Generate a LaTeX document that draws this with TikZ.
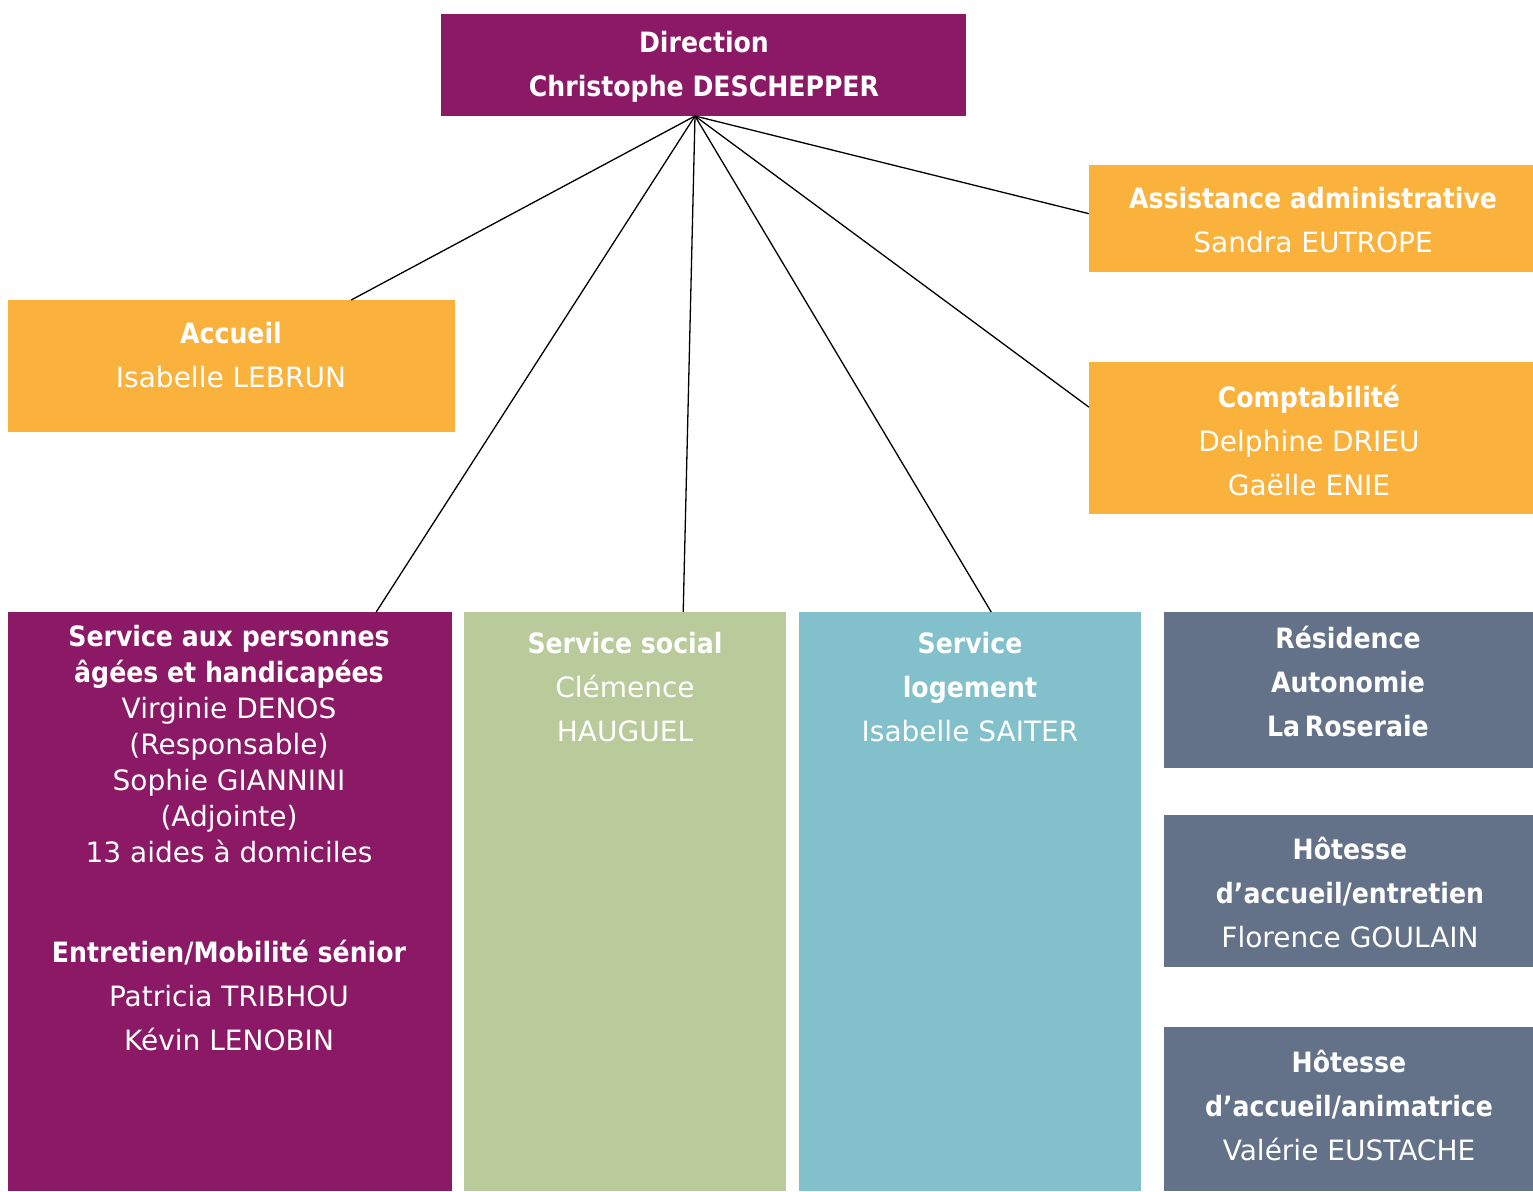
\documentclass[tikz,border=0pt]{standalone}
\usepackage{fontspec}
\setmainfont{DejaVu Sans}[BoldFont={DejaVu Sans Condensed Bold}]
\usetikzlibrary{positioning}
\definecolor{prune}{RGB}{140,25,102}
\definecolor{orange}{RGB}{250,178,60}
\definecolor{sauge}{RGB}{185,202,155}
\definecolor{ciel}{RGB}{130,192,204}
\definecolor{ardoise}{RGB}{99,114,137}
\begin{document}
\begin{tikzpicture}[x=1pt,y=-1pt,
  box/.style={inner sep=0pt, anchor=north west},
  txt/.style={text=white, align=center, inner sep=0pt, font=\fontsize{28}{44}\selectfont},
  link/.style={black, line width=1.3pt}]
\useasboundingbox (0,0) rectangle (1533,1191);
\node[box, fill=prune, minimum width=525, minimum height=102] (dir) at (441,14) {};
\node[box, fill=orange, minimum width=444, minimum height=107] (assist) at (1089,165) {};
\node[box, fill=orange, minimum width=447, minimum height=132] (accueil) at (8,300) {};
\node[box, fill=orange, minimum width=444, minimum height=152] (compta) at (1089,362) {};
\node[box, fill=prune, minimum width=444, minimum height=579] (sap) at (8,612) {};
\node[box, fill=sauge, minimum width=322, minimum height=579] (social) at (464,612) {};
\node[box, fill=ciel, minimum width=342, minimum height=579] (logement) at (799,612) {};
\node[box, fill=ardoise, minimum width=369, minimum height=156] (residence) at (1164,612) {};
\node[box, fill=ardoise, minimum width=369, minimum height=152] (hotesseA) at (1164,815) {};
\node[box, fill=ardoise, minimum width=369, minimum height=164] (hotesseB) at (1164,1027) {};

\node[txt] (dirtxt) at (704,67) {\textbf{Direction}\\\textbf{Christophe DESCHEPPER}};
\node[txt] (assisttxt) at (1313,220) {\textbf{Assistance administrative}\\Sandra EUTROPE};
\node[txt] (accueiltxt) at (231,355) {\textbf{Accueil}\\Isabelle LEBRUN};
\node[txt] (comptatxt) at (1309,440) {\textbf{Comptabilité}\\Delphine DRIEU\\Gaëlle ENIE};
\node[txt, font=\fontsize{28}{36}\selectfont] (saptxt) at (229,744) {\textbf{Service aux personnes}\\\textbf{âgées et handicapées}\\Virginie DENOS\\(Responsable)\\Sophie GIANNINI\\(Adjointe)\\13 aides à domiciles};
\node[txt] (mobtxt) at (229,995) {\textbf{Entretien/Mobilité sénior}\\Patricia TRIBHOU\\Kévin LENOBIN};
\node[txt] (socialtxt) at (625,687) {\textbf{Service social}\\Clémence\\HAUGUEL};
\node[txt] (logementtxt) at (970,687) {\textbf{Service}\\\textbf{logement}\\Isabelle SAITER};
\node[txt] (residencetxt) at (1348,681) {\textbf{Résidence}\\\textbf{Autonomie}\\\textbf{La\,Roseraie}};
\node[txt] (hotesseAtxt) at (1350,892) {\textbf{Hôtesse}\\\textbf{d’accueil/entretien}\\Florence GOULAIN};
\node[txt] (hotesseBtxt) at (1349,1105) {\textbf{Hôtesse}\\\textbf{d’accueil/animatrice}\\Valérie EUSTACHE};

\coordinate (hub) at (695,116);
\draw[link] (hub) -- ([xshift=119.5pt]accueil.north);
\draw[link] (hub) -- ([xshift=146pt]sap.north);
\draw[link] (hub) -- ([xshift=58pt]social.north);
\draw[link] (hub) -- ([xshift=21pt]logement.north);
\draw[link] (hub) -- ([yshift=31pt]compta.west);
\draw[link] (hub) -- ([yshift=5pt]assist.west);
\end{tikzpicture}
\end{document}
